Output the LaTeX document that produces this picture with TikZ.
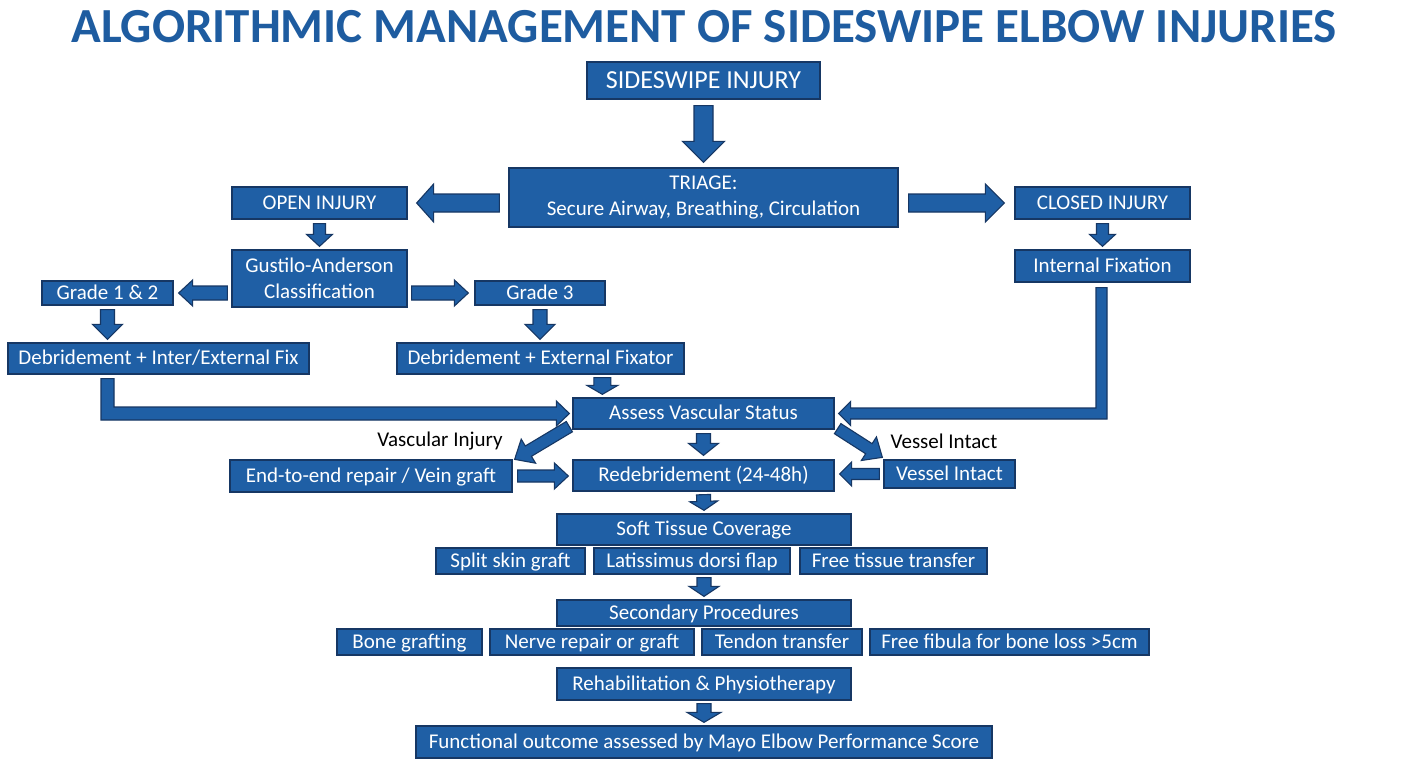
\documentclass[tikz,border=0pt]{standalone}
\usepackage{fontspec}
\setmainfont{Carlito}
\usetikzlibrary{calc}
\definecolor{bfill}{RGB}{31,95,165}
\definecolor{bdr}{RGB}{22,55,100}
\definecolor{ttl}{RGB}{30,92,160}
\tikzset{
  box/.style={draw=bdr, line width=1.3pt, fill=bfill, text=white, inner sep=0pt, align=center,
    text height=15pt, text depth=3pt, font=\fontsize{21}{26}\selectfont},
  arr/.style={draw=bdr, line width=1.1pt, fill=bfill, line join=miter},
  lbl/.style={text=black, inner sep=0pt, font=\fontsize{21}{25}\selectfont},
}
% box by corners: [opts]{name}{x1}{y1}{x2}{y2}{text}
\newcommand{\bx}[7][]{\node[box,#1,minimum width={(#5-#3)*1pt},minimum height={(#6-#4)*1pt}] (#2) at ({(#3+#5)/2},{(#4+#6)/2}) {#7};}
% straight block arrow: {from}{to}{shaft half}{head half}{head length}
\newcommand{\barrow}[5]{%
  \coordinate (bA) at #1; \coordinate (bB) at #2;
  \coordinate (bH) at ($(bB)!#5!(bA)$);
  \draw[arr] ($(bA)!#3!90:(bB)$) -- ($(bH)!#3!90:(bB)$) -- ($(bH)!#4!90:(bB)$) -- (bB)
    -- ($(bH)!#4!-90:(bB)$) -- ($(bH)!#3!-90:(bB)$) -- ($(bA)!#3!-90:(bB)$) -- cycle;}
% elbow block arrow (down, then sideways): {start}{tip}{shaft half}{head half}{head length}{sign}
\newcommand{\elbow}[6]{%
  \draw[arr] let \p1=#1, \p2=#2 in
    ({\x1-#6*#3},\y1) -- ({\x1+#6*#3},\y1) -- ({\x1+#6*#3},{\y2+#3}) -- ({\x2-#6*#5},{\y2+#3})
    -- ({\x2-#6*#5},{\y2+#4}) -- (\x2,\y2) -- ({\x2-#6*#5},{\y2-#4}) -- ({\x2-#6*#5},{\y2-#3})
    -- ({\x1-#6*#3},{\y2-#3}) -- cycle;}
\begin{document}
\begin{tikzpicture}[x=1pt,y=-1pt]
\useasboundingbox (0,0) rectangle (1408,768);
\fill[white] (0,0) rectangle (1408,768);

\node[anchor=base, text=ttl, inner sep=0pt, font=\fontsize{49}{56}\selectfont\bfseries] (title) at (704,43) {ALGORITHMIC MANAGEMENT OF SIDESWIPE ELBOW INJURIES};

\bx[font=\fontsize{26}{30}\selectfont, text height=18pt, text depth=2pt]{sideswipe}{587}{62}{820}{99}{SIDESWIPE INJURY}
\bx[font=\fontsize{21}{26}\selectfont, text height={}, text depth={}]{triage}{509}{168}{898}{227}{TRIAGE:\\Secure Airway, Breathing, Circulation}
\bx{open}{232}{187}{407}{219}{OPEN INJURY}
\bx{closed}{1015}{187}{1190}{219}{CLOSED INJURY}
\bx[text height={}, text depth={}]{gustilo}{232}{250}{407}{307}{Gustilo-Anderson\\Classification}
\bx{internal}{1015}{250}{1190}{282}{Internal Fixation}
\bx{grade12}{42}{281}{173}{305}{Grade 1 \& 2}
\bx{grade3}{475}{281}{605}{305}{Grade 3}
\bx{debr1}{8}{343}{309}{374}{Debridement + Inter/External Fix}
\bx{debr2}{397}{343}{684}{374}{Debridement + External Fixator}
\bx{assess}{573}{398}{834}{429}{Assess Vascular Status}
\bx{endtoend}{230}{460}{512}{492}{End-to-end repair / Vein graft}
\bx{redeb}{573}{460}{834}{491}{Redebridement (24-48h)}
\bx{vintact}{884}{460}{1015}{488}{Vessel Intact}
\bx{soft}{557}{514}{851}{545}{Soft Tissue Coverage}
\bx{split}{436}{548}{585}{574}{Split skin graft}
\bx{latiss}{594}{548}{790}{574}{Latissimus dorsi flap}
\bx{free}{800}{548}{987}{574}{Free tissue transfer}
\bx{secondary}{557}{600}{851}{626}{Secondary Procedures}
\bx{bone}{337}{629}{482}{655}{Bone grafting}
\bx{nerve}{490}{629}{694}{655}{Nerve repair or graft}
\bx{tendon}{702}{629}{862}{655}{Tendon transfer}
\bx{fibula}{870}{629}{1149}{655}{Free fibula for bone loss >5cm}
\bx{rehab}{557}{668}{851}{700}{Rehabilitation \& Physiotherapy}
\bx{functional}{416}{726}{992}{758}{Functional outcome assessed by Mayo Elbow Performance Score}

\node[lbl] (lvasc) at (440,441) {Vascular Injury};
\node[lbl] (lvess) at (944,441) {Vessel Intact};

% arrows
\barrow{($(sideswipe.south)+(0,6)$)}{($(triage.north)+(0,-5)$)}{9.5pt}{21pt}{21pt}
\barrow{($(triage.west|-open.east)+(-9,0)$)}{($(open.east)+(9,0)$)}{9pt}{19pt}{17pt}
\barrow{($(triage.east|-closed.west)+(10,0)$)}{($(closed.west)+(-10,0)$)}{9pt}{19pt}{19pt}
\barrow{($(open.south)+(0,4)$)}{($(gustilo.north)+(0,-3)$)}{6pt}{13pt}{12pt}
\barrow{($(closed.south)+(0,4)$)}{($(internal.north)+(0,-3)$)}{6pt}{13pt}{12pt}
\barrow{($(gustilo.west|-grade12.east)+(-4,0)$)}{($(grade12.east)+(5,0)$)}{7pt}{13pt}{14pt}
\barrow{($(gustilo.east|-grade3.west)+(4,0)$)}{($(grade3.west)+(-6,0)$)}{7pt}{13pt}{14pt}
\barrow{($(grade12.south)+(0,4)$)}{($(grade12.south|-debr1.north)+(0,-3)$)}{7pt}{15pt}{15pt}
\barrow{($(grade3.south)+(0,4)$)}{($(grade3.south|-debr2.north)+(0,-3)$)}{7pt}{15pt}{15pt}
\barrow{($(assess.north west|-debr2.south)+(30,3)$)}{($(assess.north west)+(30,-3)$)}{8.5pt}{15.5pt}{9pt}
\elbow{($(grade12.south|-debr1.south)+(0,4)$)}{($(assess.west)+(-3,0)$)}{6.5pt}{12.5pt}{13pt}{1}
\elbow{($(internal.south)+(-1,5)$)}{($(assess.east)+(4,0)$)}{5.5pt}{12pt}{12pt}{-1}
\barrow{($(assess.south)+(0,4)$)}{($(redeb.north)+(0,-4)$)}{7pt}{15pt}{12pt}
\barrow{($(assess.south west)+(-3,-3)$)}{($(endtoend.north east)+(2,0)$)}{6pt}{14pt}{16pt}
\barrow{($(assess.south east)+(3,-1)$)}{($(vintact.north west)+(-1,-2)$)}{6pt}{14pt}{16pt}
\barrow{($(endtoend.east)+(5,0)$)}{($(redeb.west|-endtoend.east)+(-4,0)$)}{6pt}{13pt}{14pt}
\barrow{($(vintact.west)+(-4,0)$)}{($(redeb.east|-vintact.west)+(5,0)$)}{5.5pt}{12pt}{12pt}
\barrow{($(redeb.south)+(0,3)$)}{($(soft.north)+(0,-3)$)}{7pt}{14pt}{9pt}
\barrow{($(secondary.north|-latiss.south)+(0,3)$)}{($(secondary.north)+(0,-3)$)}{7pt}{15pt}{10pt}
\barrow{($(rehab.south)+(0,3)$)}{($(rehab.south|-functional.north)+(0,-3)$)}{7pt}{17pt}{10pt}
\end{tikzpicture}
\end{document}
